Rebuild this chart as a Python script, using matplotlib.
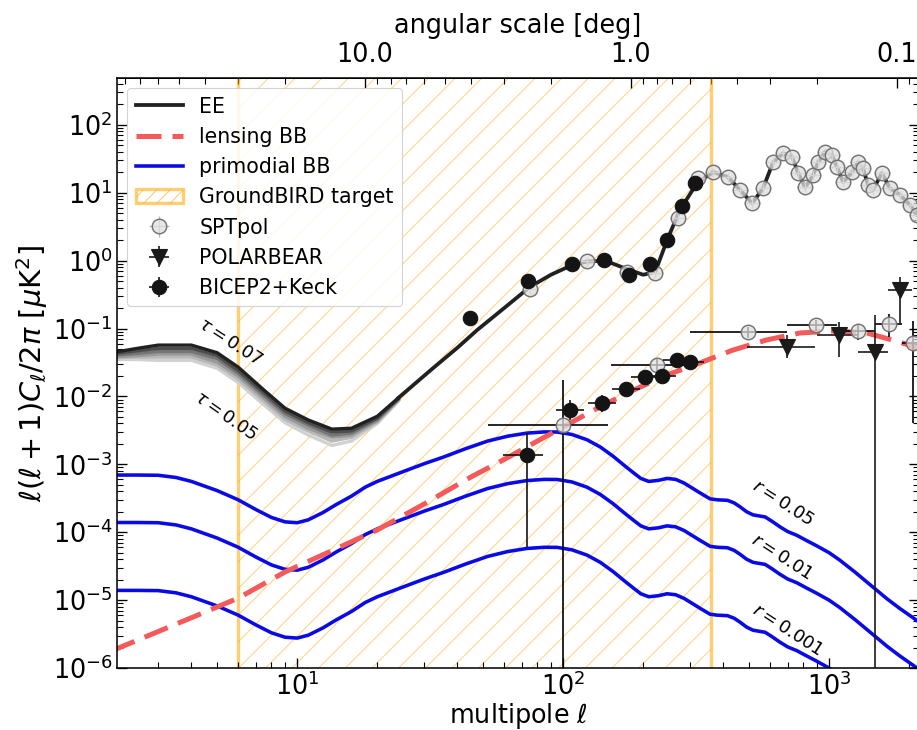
import numpy as np
import matplotlib
matplotlib.use("Agg")
import matplotlib.pyplot as plt
from matplotlib.patches import Patch
from matplotlib.ticker import FixedLocator, FormatStrFormatter

# ---- EE theory, reionisation bump for several tau ----
tau_ell = [2, 2.5, 3, 3.5, 4, 5, 6, 7.5, 9, 11, 13.5, 16, 20, 24]
ee_tau050 = [0.035, 0.035, 0.034, 0.034, 0.034, 0.026, 0.016, 0.0075, 0.0041, 0.0027, 0.0019, 0.0022, 0.0040, 0.0085]
ee_tau054 = [0.037, 0.038, 0.038, 0.038, 0.038, 0.029, 0.018, 0.0085, 0.0046, 0.0031, 0.0022, 0.0025, 0.0042, 0.0087]
ee_tau058 = [0.038, 0.040, 0.042, 0.042, 0.042, 0.032, 0.020, 0.0094, 0.0051, 0.0034, 0.0025, 0.0027, 0.0044, 0.0089]
ee_tau062 = [0.040, 0.043, 0.046, 0.046, 0.046, 0.036, 0.022, 0.0103, 0.0056, 0.0038, 0.0027, 0.0029, 0.0046, 0.0091]
ee_tau066 = [0.042, 0.047, 0.051, 0.051, 0.051, 0.040, 0.024, 0.0113, 0.0061, 0.0041, 0.0030, 0.0031, 0.0048, 0.0093]
ee_tau070 = [0.044, 0.051, 0.057, 0.057, 0.057, 0.044, 0.027, 0.0124, 0.0067, 0.0045, 0.0033, 0.0034, 0.0051, 0.0095]
tau_curves = [ee_tau050, ee_tau054, ee_tau058, ee_tau062, ee_tau066, ee_tau070]
tau_greys = ["0.82", "0.72", "0.6", "0.46", "0.3", "0.13"]

# ---- EE theory above the bump ----
ee_ell = [24, 32, 40, 47.5, 60, 75, 90, 108, 123, 144, 174, 200, 222, 246, 275, 319, 367,
          417, 463, 514, 565, 616, 671, 726, 764, 813, 871, 909, 966, 1026, 1072, 1130,
          1220, 1285, 1342, 1402, 1463, 1581, 1694, 1849, 2017, 2143, 2500, 3000]
ee_val = [0.0095, 0.025, 0.052, 0.095, 0.20, 0.41, 0.62, 0.86, 0.97, 1.0, 0.75, 0.62, 0.68,
          2.0, 5.6, 13.9, 20.2, 17.0, 11.0, 7.0, 11.7, 28.0, 38.0, 34.0, 20.0, 12.0, 18.0,
          28.0, 40.0, 36.0, 24.0, 14.4, 20.0, 28.0, 23.0, 13.0, 11.0, 19.5, 11.7, 9.3, 6.6,
          4.7, 3.5, 2.5]

# ---- lensing BB ----
lens_ell = [2, 4, 6, 9, 14, 20, 30, 45, 61.5, 80, 100, 137, 184, 246, 326, 434, 583, 778,
            1039, 1387, 1849, 2143, 3000]
lens_val = [1.78e-6, 5.5e-6, 1.07e-5, 2.6e-5, 5.7e-5, 1.08e-4, 2.6e-4, 6.5e-4, 1.24e-3,
            2.2e-3, 3.54e-3, 6.98e-3, 0.0124, 0.0207, 0.031, 0.048, 0.068, 0.086, 0.092,
            0.086, 0.063, 0.052, 0.03]

# ---- primordial BB ----
prim_ell = [2, 2.5, 3, 3.5, 4, 5, 6, 7, 8, 9, 10, 11, 12.5, 14, 16, 18, 20, 25, 30, 35.5,
            43, 52, 62, 73, 85, 95, 108, 123, 138, 154, 170, 184, 196, 210, 228, 246, 265,
            285, 305, 327, 357, 380, 415, 440, 464, 490, 518, 545, 575, 610, 654, 700, 757,
            820, 899, 1000, 1096, 1250, 1456, 1650, 1840, 2143, 2500, 3000]
prim_r005 = [6.95e-4, 6.95e-4, 6.9e-4, 6.4e-4, 5.6e-4, 4.1e-4, 3.0e-4, 2.15e-4, 1.65e-4,
             1.42e-4, 1.38e-4, 1.52e-4, 1.95e-4, 2.55e-4, 3.4e-4, 4.6e-4, 5.6e-4, 7.8e-4,
             1.02e-3, 1.28e-3, 1.7e-3, 2.2e-3, 2.6e-3, 2.88e-3, 3.0e-3, 2.99e-3, 2.75e-3,
             2.3e-3, 1.8e-3, 1.32e-3, 9.6e-4, 7.5e-4, 6.2e-4, 5.6e-4, 5.8e-4, 6.2e-4, 6.0e-4,
             5.3e-4, 4.5e-4, 3.8e-4, 3.1e-4, 3.0e-4, 2.95e-4, 2.7e-4, 2.35e-4, 2.0e-4, 1.8e-4,
             1.74e-4, 1.68e-4, 1.45e-4, 1.2e-4, 1.02e-4, 9.0e-5, 7.6e-5, 6.3e-5, 5.0e-5,
             3.9e-5, 2.6e-5, 1.58e-5, 1.05e-5, 7.6e-6, 5.0e-6, 3.1e-6, 1.7e-6]
prim_r001 = [1.39e-4, 1.39e-4, 1.38e-4, 1.28e-4, 1.12e-4, 8.2e-5, 6.0e-5, 4.3e-5, 3.3e-5,
             2.84e-5, 2.76e-5, 3.04e-5, 3.9e-5, 5.1e-5, 6.8e-5, 9.2e-5, 1.12e-4, 1.56e-4,
             2.04e-4, 2.56e-4, 3.4e-4, 4.4e-4, 5.2e-4, 5.76e-4, 6.0e-4, 5.98e-4, 5.5e-4,
             4.6e-4, 3.6e-4, 2.64e-4, 1.92e-4, 1.5e-4, 1.24e-4, 1.12e-4, 1.16e-4, 1.24e-4,
             1.2e-4, 1.06e-4, 9.0e-5, 7.6e-5, 6.2e-5, 6.0e-5, 5.9e-5, 5.4e-5, 4.7e-5, 4.0e-5,
             3.6e-5, 3.48e-5, 3.36e-5, 2.9e-5, 2.4e-5, 2.04e-5, 1.8e-5, 1.52e-5, 1.26e-5,
             1.0e-5, 7.8e-6, 5.2e-6, 3.16e-6, 2.1e-6, 1.52e-6, 1.0e-6, 6.2e-7, 3.4e-7]
prim_r0001 = [1.39e-5, 1.39e-5, 1.38e-5, 1.28e-5, 1.12e-5, 8.2e-6, 6.0e-6, 4.3e-6, 3.3e-6,
              2.84e-6, 2.76e-6, 3.04e-6, 3.9e-6, 5.1e-6, 6.8e-6, 9.2e-6, 1.12e-5, 1.56e-5,
              2.04e-5, 2.56e-5, 3.4e-5, 4.4e-5, 5.2e-5, 5.76e-5, 6.0e-5, 5.98e-5, 5.5e-5,
              4.6e-5, 3.6e-5, 2.64e-5, 1.92e-5, 1.5e-5, 1.24e-5, 1.12e-5, 1.16e-5, 1.24e-5,
              1.2e-5, 1.06e-5, 9.0e-6, 7.6e-6, 6.2e-6, 6.0e-6, 5.9e-6, 5.4e-6, 4.7e-6, 4.0e-6,
              3.6e-6, 3.48e-6, 3.36e-6, 2.9e-6, 2.4e-6, 2.04e-6, 1.8e-6, 1.52e-6, 1.26e-6,
              1.0e-6, 7.8e-7, 5.2e-7, 3.16e-7, 2.1e-7, 1.52e-7, 1.0e-7, 6.2e-8, 3.4e-8]

# ---- measurements ----
bk_ee_ell = [44.7, 73.8, 108, 142, 177, 212, 246, 281, 313]
bk_ee_val = [0.143, 0.50, 0.89, 1.02, 0.61, 0.89, 2.0, 6.4, 13.9]
bk_ee_err = [0.03, 0.05, 0.08, 0.1, 0.08, 0.1, 0.2, 0.6, 1.2]

spt_ee_ell = [75, 123, 174, 222, 271, 322, 367, 417, 463, 514, 565, 616, 671, 726, 764, 813,
              871, 909, 966, 1026, 1072, 1130, 1220, 1285, 1342, 1402, 1463, 1581, 1694,
              1849, 2017, 2143]
spt_ee_val = [0.38, 0.98, 0.68, 0.66, 4.2, 16.4, 20.2, 17.0, 11.0, 7.0, 11.7, 28.3, 38.5,
              33.6, 19.5, 12.1, 18.2, 28.3, 39.8, 35.9, 23.9, 14.4, 20.2, 28.3, 23.1, 13.0,
              11.0, 19.5, 11.7, 9.25, 6.6, 4.7]

bk_bb_ell = [73.3, 106, 140, 173, 203, 236, 268, 300]
bk_bb_val = [1.37e-3, 6.3e-3, 8.0e-3, 0.0129, 0.0193, 0.0197, 0.0344, 0.0323]
bk_bb_xlo = [13.7, 12, 16, 20, 23, 27, 31, 35]
bk_bb_xhi = [10.7, 14, 18, 22, 26, 30, 35, 39]
bk_bb_ylo = [1.31e-3, 1.8e-3, 2.2e-3, 2.5e-3, 3.0e-3, 3.0e-3, 5.0e-3, 5.0e-3]
bk_bb_yhi = [1.52e-3, 2.5e-3, 2.4e-3, 3.0e-3, 3.5e-3, 3.5e-3, 6.0e-3, 6.0e-3]

spt_bb_ell = [100, 226, 496, 893, 1285, 1682, 2070]
spt_bb_val = [3.8e-3, 0.029, 0.0887, 0.113, 0.092, 0.116, 0.061]
spt_bb_xlo = [48, 74, 196, 196, 213, 193, 190]
spt_bb_xhi = [47, 74, 201, 179, 204, 198, 200]
spt_bb_ylo = [3.8e-3 - 1e-9, 0.006, 0.015, 0.02, 0.025, 0.04, 0.057]
spt_bb_yhi = [0.0138, 0.006, 0.015, 0.02, 0.025, 0.05, 0.07]

pb_ell = [695, 1091, 1489, 1849]
pb_val = [0.0535, 0.080, 0.045, 0.37]
pb_xlo = [203, 193, 204, 179]
pb_xhi = [188, 194, 179, 211]
pb_ylo = [0.0165, 0.0425, 0.045 - 1e-9, 0.25]
pb_yhi = [0.0255, 0.045, 0.115, 0.2]

target_lo, target_hi = 6, 360

fig = plt.figure(figsize=(917 / 80, 730 / 80), dpi=80)
# right spine sits just past the picture's right edge
ax = fig.add_axes([117 / 917, 62 / 730, 802 / 917, 590 / 730])
ax.set_xscale("log")
ax.set_yscale("log")

# GroundBIRD band
ax.axvspan(target_lo, target_hi, facecolor="none", edgecolor=(1.0, 0.65, 0.0, 0.45),
           hatch="/", lw=0, zorder=0)
for xv in (target_lo, target_hi):
    ax.axvline(xv, color="orange", alpha=0.55, lw=3, zorder=0.5)

# EE
for vals, c in zip(tau_curves, tau_greys):
    ax.plot(tau_ell, vals, color=c, lw=3, zorder=2)
ee_line, = ax.plot(ee_ell, ee_val, color="0.13", lw=3.4, zorder=2, label="EE")

# BB theory
lens_line, = ax.plot(lens_ell, lens_val, color="#f55a5a", lw=4.5, ls=(0, (5, 2.2)),
                     zorder=2.5, label="lensing BB")
prim_line, = ax.plot(prim_ell, prim_r005, color="#0a0ae6", lw=3.2, zorder=2, label="primodial BB")
ax.plot(prim_ell, prim_r001, color="#0a0ae6", lw=3.2, zorder=2)
ax.plot(prim_ell, prim_r0001, color="#0a0ae6", lw=3.2, zorder=2)

# data
spt_style = dict(fmt="o", ms=13, mfc=(0.88, 0.88, 0.88, 0.75), mec="0.45", mew=1.3,
                 capsize=0, zorder=4)
spt_ee = ax.errorbar(spt_ee_ell, spt_ee_val, yerr=np.array(spt_ee_val) * 0.15,
                     xerr=np.array(spt_ee_ell) * 0.07, ecolor="0.72", elinewidth=1.2,
                     label="SPTpol", **spt_style)
ax.errorbar(spt_bb_ell, spt_bb_val, xerr=[spt_bb_xlo, spt_bb_xhi],
            yerr=[spt_bb_ylo, spt_bb_yhi], ecolor="k", elinewidth=1.5, **spt_style)
pb = ax.errorbar(pb_ell, pb_val, xerr=[pb_xlo, pb_xhi], yerr=[pb_ylo, pb_yhi], fmt="v",
                 ms=14, color="0.1", ecolor="0.1", elinewidth=1.5, capsize=0, zorder=4,
                 label="POLARBEAR")
bk = ax.errorbar(bk_bb_ell, bk_bb_val, xerr=[bk_bb_xlo, bk_bb_xhi],
                 yerr=[bk_bb_ylo, bk_bb_yhi], fmt="o", ms=13, color="0.08", ecolor="0.08",
                 elinewidth=1.5, capsize=0, zorder=5, label="BICEP2+Keck")
ax.errorbar(bk_ee_ell, bk_ee_val, yerr=bk_ee_err, fmt="o", ms=13, color="0.08",
            ecolor="0.5", elinewidth=1.2, capsize=0, zorder=5)

# annotations
ax.text(5.6, 0.063, r"$\tau=0.07$", rotation=-33, ha="center", va="center", fontsize=16)
ax.text(5.4, 0.0051, r"$\tau=0.05$", rotation=-35, ha="center", va="center", fontsize=16)
ax.text(671, 2.69e-4, r"$r=0.05$", rotation=-33, ha="center", va="center", fontsize=16)
ax.text(665, 4.3e-5, r"$r=0.01$", rotation=-33, ha="center", va="center", fontsize=16)
ax.text(701, 3.6e-6, r"$r=0.001$", rotation=-33, ha="center", va="center", fontsize=16)

ax.set_xlim(2.1, 2180)
ax.set_ylim(1e-6, 490)
ax.set_xlabel(r"multipole $\ell$", fontsize=23, labelpad=0)
ax.set_ylabel(r"$\ell(\ell+1)C_\ell/2\pi\ [\mu\mathrm{K}^2]$", fontsize=26, labelpad=2)
ax.tick_params(which="both", direction="in", top=False, right=True, labelsize=23)
ax.tick_params(which="major", length=9, width=1.2, pad=4)
ax.tick_params(which="minor", length=5, width=1)
for s in ax.spines.values():
    s.set_linewidth(1.4)

# top axis in degrees
deg = lambda l: 180.0 / np.maximum(l, 1e-9)
sec = ax.secondary_xaxis("top", functions=(deg, deg))
sec.xaxis.set_major_locator(FixedLocator([10, 1, 0.1]))
sec.xaxis.set_major_formatter(FormatStrFormatter("%.1f"))
sec.tick_params(which="both", direction="in", labelsize=23)
sec.tick_params(which="major", length=9, width=1.2, pad=9)
sec.tick_params(which="minor", length=5, width=1)
sec.set_xlabel("angular scale [deg]", fontsize=23, labelpad=8)

target_patch = Patch(facecolor="none", edgecolor=(1.0, 0.65, 0.0, 0.55), hatch="//", lw=3,
                     label="GroundBIRD target")
ax.legend([ee_line, lens_line, prim_line, target_patch, spt_ee, pb, bk],
          ["EE", "lensing BB", "primodial BB", "GroundBIRD target", "SPTpol",
           "POLARBEAR", "BICEP2+Keck"],
          loc="upper left", fontsize=18.5, framealpha=0.85, edgecolor="0.8",
          handlelength=2.3, borderaxespad=0.5)

fig.savefig("out.png", dpi=80)
